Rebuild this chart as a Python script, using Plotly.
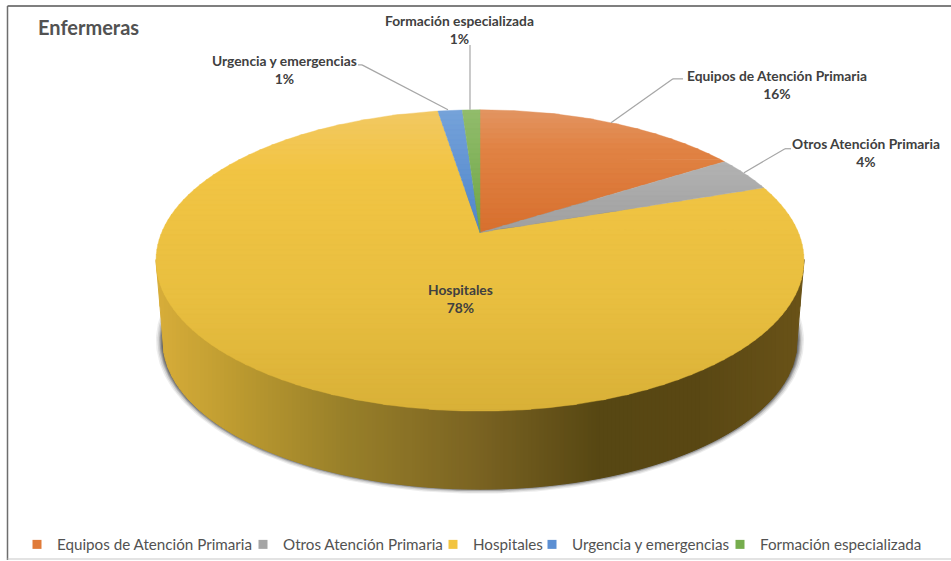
import numpy as np
import plotly.graph_objects as go

# ---- data ----
categories = ["Equipos de Atención Primaria", "Otros Atención Primaria", "Hospitales",
              "Urgencia y emergencias", "Formación especializada"]
values = [16.0, 3.7, 77.8, 1.45, 1.05]
pct_labels = ["16%", "4%", "78%", "1%", "1%"]
title_text = "Enfermeras"

# ---- styles ----
W, H = 951, 561
CX, CY, A, B, K = 480.0, 233.0, 318.4, 145.8, 0.185   # perspective of the top disc
legend_colors = ["#E07B39", "#A5A5A5", "#F2C440", "#5B8FD3", "#76AD4D"]
slice_grad = [
    [(110, "#e39562"), (150, "#e18344"), (233, "#d8702f")],
    [(160, "#b4b4b4"), (233, "#9f9f9f")],
    [(110, "#f3c964"), (170, "#f2c544"), (300, "#e9bf40"), (412, "#d9b138")],
    [(110, "#76a3da"), (233, "#4f86cc")],
    [(110, "#92bd6c"), (233, "#6fa647")],
]
side_grad = [(156, "#d8ae3a"), (240, "#bc9a30"), (340, "#9a812a"), (480, "#7a6322"),
             (600, "#574713"), (700, "#5a4814"), (804, "#6a5318")]
TEXT = "#404040"; MUTED = "#525252"; LEAD = "#a6a6a6"
LABEL_FONT = "Lato"


def hex_rgb(c):
    return np.array([int(c[i:i + 2], 16) for i in (1, 3, 5)], float)


def grad(stops, v):
    xs = [s[0] for s in stops]
    rgb = [np.interp(v, xs, [hex_rgb(s[1])[i] for s in stops]) for i in range(3)]
    return "rgb(%d,%d,%d)" % tuple(rgb)


def project(theta):
    u, v = np.sin(theta), np.cos(theta)
    d = 1 + K * v
    return CX + A * u / d, CY - B * v / d


def clip(poly, y0, y1):
    def half(pts, keep, cross):
        out = []
        for i in range(len(pts)):
            p, q = pts[i - 1], pts[i]
            if keep(q):
                if not keep(p):
                    out.append(cross(p, q))
                out.append(q)
            elif keep(p):
                out.append(cross(p, q))
        return out

    def at(yc):
        return lambda p, q: (p[0] + (q[0] - p[0]) * (yc - p[1]) / (q[1] - p[1]), yc)

    pts = half(poly, lambda p: p[1] >= y0, at(y0))
    return half(pts, lambda p: p[1] <= y1, at(y1)) if pts else []


fig = go.Figure()


def fill(xs, ys, color, opacity=1.0, lw=1.0):
    fig.add_trace(go.Scatter(x=list(xs), y=list(ys), mode="lines", fill="toself", fillcolor=color,
                             line=dict(color=color, width=lw), opacity=opacity,
                             hoverinfo="skip", showlegend=False))


# top disc outline, used by the side wall and shadow
tt = np.linspace(0, 2 * np.pi, 721)
ex, ey = project(tt)
e_cy = (ey.max() + ey.min()) / 2
e_rx = (ex.max() - ex.min()) / 2
e_ry = (ey.max() - ey.min()) / 2

# lower wall ellipse
W_CY, W_RX, W_RY = 342.0, 317.0, 148.0

# soft shadow under the wall
phi = np.linspace(0, 2 * np.pi, 361)
for grow, op in zip([7, 5.5, 4, 3, 2, 1], [0.10, 0.16, 0.24, 0.32, 0.42, 0.5]):
    fill(CX + (W_RX + grow) * np.cos(phi), W_CY + (W_RY + grow * 0.8) * np.sin(phi) - 1,
         "#505050", op, 0)

# side wall as thin vertical strips
edges = np.arange(156, 805, 4.0)
for x0, x1 in zip(edges[:-1], edges[1:]):
    xs = np.linspace(x0, x1, 4)
    top = e_cy + e_ry * np.sqrt(np.clip(1 - ((xs - CX) / e_rx) ** 2, 0, 1))
    inside = np.clip(1 - ((xs - CX) / W_RX) ** 2, 0, 1)
    bot = W_CY + W_RY * np.sqrt(inside)
    out = np.abs(xs - CX) > W_RX
    bot = np.where(out, W_CY + (e_cy - W_CY) * ((np.abs(xs - CX) - W_RX) / (e_rx - W_RX)), bot)
    fill(np.r_[xs, xs[::-1]], np.r_[top - 1, bot[::-1]], grad(side_grad, (x0 + x1) / 2))

# top slices, each shaded in horizontal bands
frac = np.cumsum([0] + values) / sum(values)
for i in [2, 0, 1, 3, 4]:
    t = np.linspace(frac[i], frac[i + 1], max(6, int(values[i] * 8))) * 2 * np.pi
    px, py = project(t)
    poly = [(CX, CY)] + list(zip(px, py))
    ymin, ymax = py.min() if i != 2 else 110, max(py.max(), CY)
    bands = np.arange(np.floor(min(ymin, CY)), ymax + 5, 5.0)
    for y0, y1 in zip(bands[:-1], bands[1:]):
        part = clip(poly, y0, y1 + 0.6)
        if len(part) >= 3:
            xs, ys = zip(*part)
            fill(list(xs) + [xs[0]], list(ys) + [ys[0]], grad(slice_grad[i], (y0 + y1) / 2), 1.0, 0.4)

# legend entries
legend_widths = [181, 145, 54, 143, 175]
for name, col, lw in zip(categories, legend_colors, legend_widths):
    fig.add_trace(go.Scatter(x=[None], y=[None], mode="markers", name=name, legendwidth=lw,
                             marker=dict(symbol="square", size=9, color=col)))

# leader lines (paths in chart pixels)
leaders = [[(683, 79), (673, 79), (611, 123)],
           [(791, 149), (785, 149), (744, 173)],
           [(358, 65), (362, 65), (448, 110)],
           [(470, 45), (470, 110)]]
shapes = []
for path in leaders:
    for p, q in zip(path[:-1], path[1:]):
        shapes.append(dict(type="line", xref="x", yref="y", x0=p[0], y0=p[1], x1=q[0], y1=q[1],
                           line=dict(color=LEAD, width=1.2), layer="above"))
# chart frame
for x0, y0, x1, y1, c, w in [(7.5, 6, 951, 6, "#555555", 1.5), (7.5, 6, 7.5, 561, "#6e6e6e", 1.5),
                             (7.5, 560, 951, 560, "#c8c8c8", 1.2)]:
    shapes.append(dict(type="line", xref="x", yref="y", x0=x0, y0=y0, x1=x1, y1=y1,
                       line=dict(color=c, width=w)))

label_pos = [(776.5, 85), (866, 153), (460, 299.5), (284, 70), (459, 30)]
annotations = []
for name, pct, (lx, ly) in zip(categories, pct_labels, label_pos):
    annotations.append(dict(x=lx, y=ly, xref="x", yref="y", showarrow=False, align="center",
                            text=f"<b>{name}<br>{pct}</b>",
                            font=dict(family=LABEL_FONT, size=13.8, color=TEXT)))

fig.update_layout(
    width=W, height=H, autosize=False, margin=dict(l=0, r=0, t=0, b=0),
    paper_bgcolor="white", plot_bgcolor="white",
    xaxis=dict(range=[0, W], visible=False, fixedrange=True),
    yaxis=dict(range=[H, 0], visible=False, fixedrange=True),
    title=dict(text=title_text, x=38 / W, y=1 - 28 / H, xanchor="left", yanchor="middle",
               font=dict(family=LABEL_FONT, size=20, color=MUTED, weight="bold")),
    showlegend=True,
    legend=dict(orientation="h", x=17 / W, y=1 - 545 / H, xanchor="left", yanchor="middle",
                font=dict(family=LABEL_FONT, size=15.2, color=MUTED), itemwidth=30,
                bgcolor="rgba(0,0,0,0)"),
    shapes=shapes, annotations=annotations,
)
fig.write_html("out.html", config=dict(displayModeBar=False),
               post_script="document.body.style.margin='0';document.body.style.overflow='hidden';")
